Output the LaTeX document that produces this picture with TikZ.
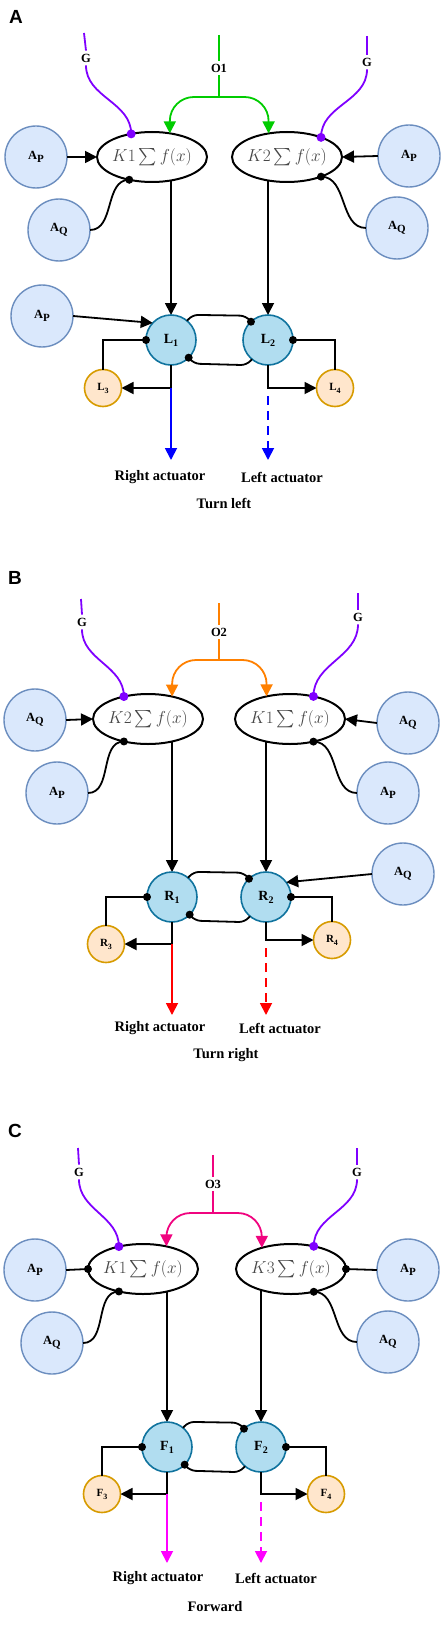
\documentclass[tikz,border=0pt]{standalone}
\usepackage[no-math]{fontspec}
\usepackage{exscale}
\setmainfont{Liberation Serif}
\newfontfamily\panelfont{Liberation Sans}
\usetikzlibrary{arrows.meta,shapes.geometric,calc,backgrounds}
\newcommand\myfs[1]{\fontsize{#1}{#1}\selectfont}
\newcommand\lsub[3]{#1{\myfs{#3}\raisebox{-3pt}{#2}}}
\definecolor{afill}{HTML}{DAE8FC}
\definecolor{aline}{HTML}{6C8EBF}
\definecolor{lfill}{HTML}{B1DDF0}
\definecolor{lline}{HTML}{10739E}
\definecolor{sfill}{HTML}{FFE6CC}
\definecolor{sline}{HTML}{D79B00}
\definecolor{gcol}{HTML}{7F00FF}
\definecolor{ogreen}{HTML}{00CC00}
\definecolor{oorange}{HTML}{FF8000}
\definecolor{opink}{HTML}{F0047F}
\definecolor{actblue}{HTML}{0000FF}
\definecolor{actred}{HTML}{FF0000}
\definecolor{actmag}{HTML}{FF00FF}
\tikzset{
 conn/.style={line width=1.8pt},
 arr/.style={line width=1.8pt,-{Triangle[length=12pt,width=12pt]}},
 dashpat/.style={dash pattern=on 9pt off 6pt},
 anode/.style={circle,draw=aline,fill=afill,line width=1.4pt,minimum size=62pt,inner sep=0pt,outer sep=0pt,font=\myfs{12.5}\bfseries},
 lnode/.style={circle,draw=lline,fill=lfill,line width=1.6pt,minimum size=50pt,inner sep=0pt,outer sep=0pt,font=\myfs{14}\bfseries},
 snode/.style={circle,draw=sline,fill=sfill,line width=1.6pt,minimum size=37pt,inner sep=0pt,outer sep=0pt,font=\myfs{11}\bfseries},
 enode/.style={ellipse,draw,line width=2pt,fill=white,minimum width=110pt,minimum height=50pt,inner sep=0pt,outer sep=0pt},
 ktext/.style={text=black!72,font=\myfs{17},inner sep=0pt},
 gtext/.style={font=\myfs{12.5}\bfseries,inner sep=3pt},
 acttext/.style={font=\myfs{14.5}\bfseries,inner sep=0pt},
 paneltext/.style={font=\panelfont\myfs{19}\bfseries,inner sep=0pt},
 ocurve/.style={arr,rounded corners=24pt},
}
\begin{document}
\begin{tikzpicture}[x=1pt,y=-1pt]
\useasboundingbox (0,0) rectangle (447,1637);

% ================= Panel A =================
\node[paneltext] (A-lab) at (16,17) {A};
\node[enode] (A-E1) at (152,157) {};
\node[ktext] (A-K1) at (A-E1) {$K1\sum f(x)$};
\node[enode] (A-E2) at (287,157) {};
\node[ktext] (A-K2) at (A-E2) {$K2\sum f(x)$};
\node[anode] (A-PL) at (36,157) {\lsub{A}{P}{11}};
\node[anode] (A-QL) at (59,230) {\lsub{A}{Q}{11}};
\node[anode] (A-PR) at (409,156) {\lsub{A}{P}{11}};
\node[anode] (A-QR) at (397,228) {\lsub{A}{Q}{11}};
\node[anode] (A-P3) at (42,316) {\lsub{A}{P}{11}};
\node[lnode] (A-N1) at (171,340) {\lsub{L}{1}{10}};
\node[lnode] (A-N2) at (268,340) {\lsub{L}{2}{10}};
\node[snode] (A-N3) at (103,388) {\lsub{L}{3}{8}};
\node[snode] (A-N4) at (335,388) {\lsub{L}{4}{8}};
\node[gtext] (A-G1) at (86,58) {G};
\node[gtext] (A-G2) at (367,62) {G};
\node[gtext] (A-O) at (219,68) {O1};
\coordinate (A-G1t) at (84,33);
\coordinate (A-G2t) at (367,36);
\coordinate (A-Ot) at (219,35);
\coordinate (A-Os) at (219,97);
\coordinate (A-J1) at (A-N1.south |- A-N3.center);
\coordinate (A-J2) at (A-N2.south |- A-N4.center);
\coordinate (A-R) at (171,460);
\coordinate (A-Ls) at (268,396);
\coordinate (A-L) at (268,460);
\node[acttext] (A-RT) at (160,477) {Right actuator};
\node[acttext] (A-LT) at (282,477) {Left actuator};
\node[acttext] (A-T) at (224,503) {Turn left};
\begin{scope}[on background layer]
\draw[arr] (A-E1.center -| A-N1.north) -- (A-N1.north);
\draw[arr] (A-E2.center -| A-N2.north) -- (A-N2.north);
\end{scope}
\draw[conn,gcol] (A-G1t) -- (A-G1.north);
\draw[conn,gcol] (A-G1.south) to[out=-90,in=90] (A-E1.132);
\fill[gcol] (A-E1.132) circle (4.5pt);
\draw[conn,gcol] (A-G2t) -- (A-G2.north);
\draw[conn,gcol] (A-G2.south) to[out=-90,in=90] (A-E2.30);
\fill[gcol] (A-E2.30) circle (4.5pt);
\draw[conn,ogreen] (A-Ot) -- (A-O.north);
\draw[conn,ogreen] (A-O.south) -- (A-Os);
\draw[ocurve,ogreen] (A-Os) -| (A-E1.53);
\draw[ocurve,ogreen] (A-Os) -| (A-E2.128);
\draw[arr] (A-PL.east) -- (A-E1.west);
\draw[arr] (A-PR.west) -- (A-E2.east);
\draw[conn] (A-QL.east) to[out=0,in=180] (A-E1.225);
\fill (A-E1.225) circle (4pt);
\draw[conn] (A-QR.west) to[out=180,in=0] (A-E2.330);
\fill (A-E2.330) circle (4pt);
\draw[arr] (A-P3.east) -- (A-N1.137);
\draw[conn,rounded corners=6pt] (A-N1.50) -- ++(5,-6) -- ($(A-N2.133)+(-5,-6)$) -- (A-N2.133);
\fill (A-N2.133) circle (4pt);
\draw[conn,rounded corners=6pt] (A-N2.230) -- ++(-5,6) -- ($(A-N1.315)+(5,6)$) -- (A-N1.315);
\fill (A-N1.315) circle (4pt);
\draw[conn] (A-N1.west) -| (A-N3.north);
\fill (A-N1.west) circle (4pt);
\draw[conn] (A-N2.east) -| (A-N4.north);
\fill (A-N2.east) circle (4pt);
\draw[arr] (A-N1.south) |- (A-N3.east);
\draw[arr] (A-N2.south) |- (A-N4.west);
\draw[arr,actblue] (A-J1) -- (A-R);
\draw[arr,actblue,dashpat] (A-Ls) -- (A-L);

% ================= Panel B =================
\node[paneltext] (B-lab) at (15,578) {B};
\node[enode] (B-E1) at (148,719) {};
\node[ktext] (B-K1) at (B-E1) {$K2\sum f(x)$};
\node[enode] (B-E2) at (290,719) {};
\node[ktext] (B-K2) at (B-E2) {$K1\sum f(x)$};
\node[anode] (B-QL) at (35,720) {\lsub{A}{Q}{11}};
\node[anode] (B-PL) at (57,793) {\lsub{A}{P}{11}};
\node[anode] (B-QR) at (408,723) {\lsub{A}{Q}{11}};
\node[anode] (B-PR) at (388,793) {\lsub{A}{P}{11}};
\node[anode] (B-Q3) at (403,874) {\lsub{A}{Q}{11}};
\node[lnode] (B-N1) at (172,897) {\lsub{R}{1}{10}};
\node[lnode] (B-N2) at (266,897) {\lsub{R}{2}{10}};
\node[snode] (B-N3) at (106,944) {\lsub{R}{3}{8}};
\node[snode] (B-N4) at (332,940) {\lsub{R}{4}{8}};
\node[gtext] (B-G1) at (82,622) {G};
\node[gtext] (B-G2) at (358,617) {G};
\node[gtext] (B-O) at (219,632) {O2};
\coordinate (B-G1t) at (81,599);
\coordinate (B-G2t) at (358,593);
\coordinate (B-Ot) at (219,603);
\coordinate (B-Os) at (219,660);
\coordinate (B-J1) at (B-N1.south |- B-N3.center);
\coordinate (B-J2) at (B-N2.south |- B-N4.center);
\coordinate (B-R) at (172,1015);
\coordinate (B-Ls) at (266,948);
\coordinate (B-L) at (266,1015);
\node[acttext] (B-RT) at (160,1028) {Right actuator};
\node[acttext] (B-LT) at (280,1028) {Left actuator};
\node[acttext] (B-T) at (226,1055) {Turn right};
\begin{scope}[on background layer]
\draw[arr] (B-E1.center -| B-N1.north) -- (B-N1.north);
\draw[arr] (B-E2.center -| B-N2.north) -- (B-N2.north);
\end{scope}
\draw[conn,gcol] (B-G1t) -- (B-G1.north);
\draw[conn,gcol] (B-G1.south) to[out=-90,in=90] (B-E1.137);
\fill[gcol] (B-E1.137) circle (4.5pt);
\draw[conn,gcol] (B-G2t) -- (B-G2.north);
\draw[conn,gcol] (B-G2.south) to[out=-90,in=90] (B-E2.44);
\fill[gcol] (B-E2.44) circle (4.5pt);
\draw[conn,oorange] (B-Ot) -- (B-O.north);
\draw[conn,oorange] (B-O.south) -- (B-Os);
\draw[ocurve,oorange] (B-Os) -| (B-E1.43);
\draw[ocurve,oorange] (B-Os) -| (B-E2.136);
\draw[arr] (B-QL.east) -- (B-E1.west);
\draw[arr] (B-QR.west) -- (B-E2.east);
\draw[conn] (B-PL.east) to[out=0,in=180] (B-E1.223);
\fill (B-E1.223) circle (4pt);
\draw[conn] (B-PR.west) to[out=180,in=0] (B-E2.316);
\fill (B-E2.316) circle (4pt);
\draw[arr] (B-Q3.west) -- (B-N2.36);
\draw[conn,rounded corners=6pt] (B-N1.50) -- ++(5,-6) -- ($(B-N2.133)+(-5,-6)$) -- (B-N2.133);
\fill (B-N2.133) circle (4pt);
\draw[conn,rounded corners=6pt] (B-N2.230) -- ++(-5,6) -- ($(B-N1.315)+(5,6)$) -- (B-N1.315);
\fill (B-N1.315) circle (4pt);
\draw[conn] (B-N1.west) -| (B-N3.north);
\fill (B-N1.west) circle (4pt);
\draw[conn] (B-N2.east) -| (B-N4.north);
\fill (B-N2.east) circle (4pt);
\draw[arr] (B-N1.south) |- (B-N3.east);
\draw[arr] (B-N2.south) |- (B-N4.west);
\draw[arr,actred] (B-J1) -- (B-R);
\draw[arr,actred,dashpat] (B-Ls) -- (B-L);

% ================= Panel C =================
\node[paneltext] (C-lab) at (15,1131) {C};
\node[enode] (C-E1) at (143,1269) {};
\node[ktext] (C-K1) at (C-E1) {$K1\sum f(x)$};
\node[enode] (C-E2) at (291,1269) {};
\node[ktext] (C-K2) at (C-E2) {$K3\sum f(x)$};
\node[anode] (C-PL) at (35,1270) {\lsub{A}{P}{11}};
\node[anode] (C-QL) at (52,1343) {\lsub{A}{Q}{11}};
\node[anode] (C-PR) at (408,1270) {\lsub{A}{P}{11}};
\node[anode] (C-QR) at (388,1342) {\lsub{A}{Q}{11}};
\node[lnode] (C-N1) at (167,1447) {\lsub{F}{1}{10}};
\node[lnode] (C-N2) at (261,1447) {\lsub{F}{2}{10}};
\node[snode] (C-N3) at (102,1494) {\lsub{F}{3}{8}};
\node[snode] (C-N4) at (326,1494) {\lsub{F}{4}{8}};
\node[gtext] (C-G1) at (79,1172) {G};
\node[gtext] (C-G2) at (357,1172) {G};
\node[gtext] (C-O) at (213,1184) {O3};
\coordinate (C-G1t) at (78,1148);
\coordinate (C-G2t) at (357,1148);
\coordinate (C-Ot) at (213,1155);
\coordinate (C-Os) at (213,1213);
\coordinate (C-J1) at (C-N1.south |- C-N3.center);
\coordinate (C-J2) at (C-N2.south |- C-N4.center);
\coordinate (C-R) at (167,1563);
\coordinate (C-Ls) at (261,1502);
\coordinate (C-L) at (261,1563);
\node[acttext] (C-RT) at (158,1578) {Right actuator};
\node[acttext] (C-LT) at (276,1578) {Left actuator};
\node[acttext] (C-T) at (215,1607) {Forward};
\begin{scope}[on background layer]
\draw[arr] (C-E1.center -| C-N1.north) -- (C-N1.north);
\draw[arr] (C-E2.center -| C-N2.north) -- (C-N2.north);
\end{scope}
\draw[conn,gcol] (C-G1t) -- (C-G1.north);
\draw[conn,gcol] (C-G1.south) to[out=-90,in=90] (C-E1.137);
\fill[gcol] (C-E1.137) circle (4.5pt);
\draw[conn,gcol] (C-G2t) -- (C-G2.north);
\draw[conn,gcol] (C-G2.south) to[out=-90,in=90] (C-E2.45);
\fill[gcol] (C-E2.45) circle (4.5pt);
\draw[conn,opink] (C-Ot) -- (C-O.north);
\draw[conn,opink] (C-O.south) -- (C-Os);
\draw[ocurve,opink] (C-Os) -| (C-E1.44);
\draw[ocurve,opink] (C-Os) -| (C-E2.144);
\draw[conn] (C-PL.east) -- (C-E1.west);
\fill (C-E1.west) circle (4pt);
\draw[conn] (C-PR.west) -- (C-E2.east);
\fill (C-E2.east) circle (4pt);
\draw[conn] (C-QL.east) to[out=0,in=180] (C-E1.223);
\fill (C-E1.223) circle (4pt);
\draw[conn] (C-QR.west) to[out=180,in=0] (C-E2.315);
\fill (C-E2.315) circle (4pt);
\draw[conn,rounded corners=6pt] (C-N1.50) -- ++(5,-6) -- ($(C-N2.133)+(-5,-6)$) -- (C-N2.133);
\fill (C-N2.133) circle (4pt);
\draw[conn,rounded corners=6pt] (C-N2.230) -- ++(-5,6) -- ($(C-N1.315)+(5,6)$) -- (C-N1.315);
\fill (C-N1.315) circle (4pt);
\draw[conn] (C-N1.west) -| (C-N3.north);
\fill (C-N1.west) circle (4pt);
\draw[conn] (C-N2.east) -| (C-N4.north);
\fill (C-N2.east) circle (4pt);
\draw[arr] (C-N1.south) |- (C-N3.east);
\draw[arr] (C-N2.south) |- (C-N4.west);
\draw[arr,actmag] (C-J1) -- (C-R);
\draw[arr,actmag,dashpat] (C-Ls) -- (C-L);
\end{tikzpicture}
\end{document}
